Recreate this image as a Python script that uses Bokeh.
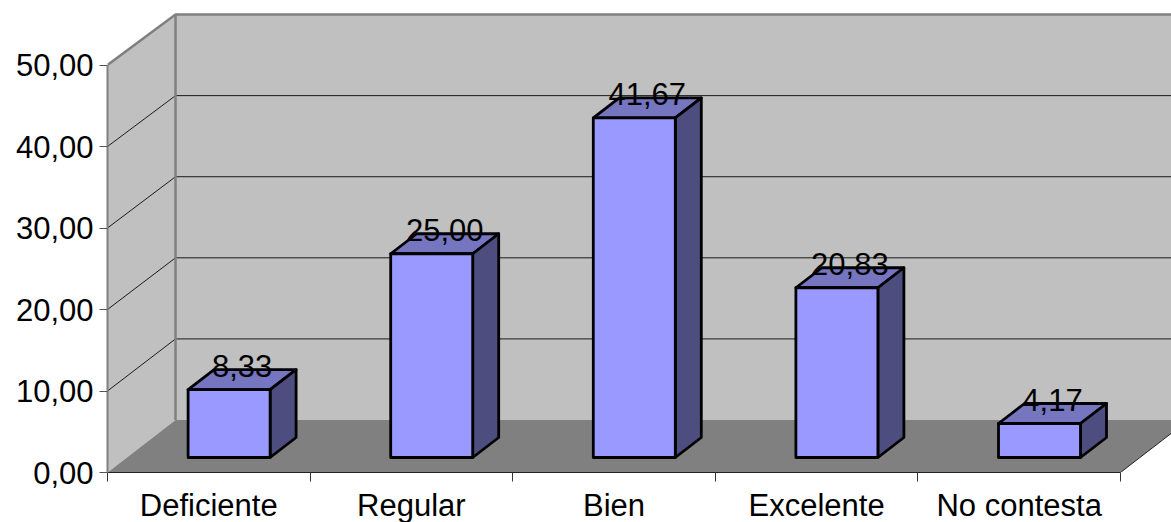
from bokeh.plotting import figure
from bokeh.embed import file_html
from bokeh.resources import INLINE
from bokeh.models import LinearAxis, FixedTicker, Range1d
from bokeh.core.properties import value

categories = ["Deficiente", "Regular", "Bien", "Excelente", "No contesta"]
values = [8.33, 25.00, 41.67, 20.83, 4.17]
labels = ["8,33", "25,00", "41,67", "20,83", "4,17"]
y_ticks = [0, 10, 20, 30, 40, 50]
y_labels = {0: "0,00", 10: "10,00", 20: "20,00", 30: "30,00", 40: "40,00", 50: "50,00"}

FONT = "Liberation Sans"
FONT_SIZE = "31px"
PX_X, PX_Y = 202.6, 8.15
X_MAX, Y_MAX = 1064 / PX_X, 472 / PX_Y
WALL_DX, WALL_DY, WALL_SCALE = 68 / PX_X, 52.5 / PX_Y, 0.995
BAR_W, BAR_SHIFT = 82 / PX_X, 20.3 / PX_X
BAR_BASE = 15 / PX_Y
BAR_DX, BAR_DY = 26 / PX_X, 20 / PX_Y
LABEL_GAP = 23.5 / PX_Y


def back(v):
    return v * WALL_SCALE + WALL_DY


p = figure(width=1171, height=522, output_backend="svg", toolbar_location=None,
           x_range=Range1d(0, X_MAX), y_range=Range1d(0, Y_MAX),
           x_axis_type=None, y_axis_type=None,
           frame_width=1064, frame_height=472,
           min_border_left=107, min_border_right=0, min_border_top=0, min_border_bottom=50)
p.outline_line_color = None
p.background_fill_color = "white"
p.border_fill_color = "white"

# walls and floor
p.patch([0, WALL_DX, WALL_DX, 0], [0, back(0), back(50), 50], fill_color="#c0c0c0", line_color=None)
p.patch([WALL_DX, X_MAX, X_MAX, WALL_DX], [back(0), back(0), back(50), back(50)], fill_color="#c0c0c0", line_color=None)
p.patch([0, 5, 5 + WALL_DX, WALL_DX], [0, 0, back(0), back(0)], fill_color="#808080", line_color=None)

# gridlines
for t in y_ticks[1:-1]:
    p.line([0, WALL_DX, X_MAX], [t, back(t), back(t)], line_color="#1a1a1a", line_width=1)

# wall edges
p.line([0, WALL_DX, X_MAX], [50, back(50), back(50)], line_color="#808080", line_width=2.5)
p.line([WALL_DX, WALL_DX], [back(0), back(50)], line_color="#808080", line_width=2.5)
p.line([5, 5 + WALL_DX], [0, back(0)], line_color="#222222", line_width=1)

# bars
idx = list(range(len(values)))
lefts = [i + 0.5 + BAR_SHIFT - BAR_W / 2 for i in idx]
rights = [l + BAR_W for l in lefts]
tops = [BAR_BASE + v for v in values]
bottoms = [BAR_BASE] * len(values)
p.patches([[l, r, r + BAR_DX, l + BAR_DX] for l, r in zip(lefts, rights)],
          [[t, t, t + BAR_DY, t + BAR_DY] for t in tops],
          fill_color="#7575c0", line_color="black", line_width=2.8, line_join="round")
p.patches([[r, r + BAR_DX, r + BAR_DX, r] for r in rights],
          [[BAR_BASE, BAR_BASE + BAR_DY, t + BAR_DY, t] for t in tops],
          fill_color="#4d4d80", line_color="black", line_width=2.8, line_join="round")
p.quad(left=lefts, right=rights, bottom=bottoms, top=tops,
       fill_color="#9999ff", line_color="black", line_width=2.8, line_join="round")

# data labels
p.text(x=[l + BAR_W / 2 + BAR_DX / 2 for l in lefts], y=[t + LABEL_GAP for t in tops], text=labels,
       text_font=value(FONT), text_font_size=FONT_SIZE, text_color="black",
       text_align="center", text_baseline="alphabetic")

# axes
yaxis = LinearAxis(ticker=FixedTicker(ticks=y_ticks), major_label_overrides=y_labels, bounds=(0, 50),
                   axis_line_color="#808080", axis_line_width=2,
                   major_tick_line_color="#555555", major_tick_line_width=1,
                   major_tick_out=8, major_tick_in=0, minor_tick_out=0, minor_tick_in=0,
                   major_label_standoff=6, major_label_text_font=FONT,
                   major_label_text_font_size=FONT_SIZE, major_label_text_color="black")
p.add_layout(yaxis, "left")

centers = [i + 0.5 for i in idx]
xaxis = LinearAxis(ticker=FixedTicker(ticks=centers, minor_ticks=list(range(len(values) + 1))),
                   major_label_overrides={c: n for c, n in zip(centers, categories)},
                   bounds=(0, 5),
                   axis_line_color="#222222", axis_line_width=1,
                   major_tick_out=0, major_tick_in=0,
                   minor_tick_out=9, minor_tick_in=0, minor_tick_line_color="#333333", minor_tick_line_width=1,
                   major_label_standoff=6, major_label_text_font=FONT,
                   major_label_text_font_size=FONT_SIZE, major_label_text_color="black")
p.add_layout(xaxis, "below")

open("out.html", "w").write(file_html(p, INLINE))
